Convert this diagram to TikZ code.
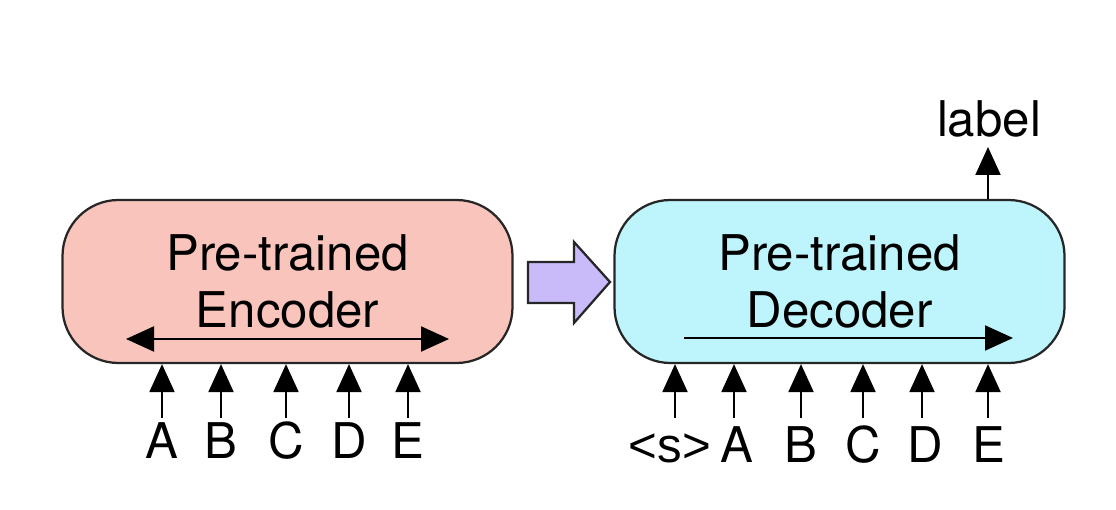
\documentclass[tikz,border=0pt]{standalone}
\usepackage{fontspec}
\setmainfont{TeX Gyre Heros}
\newfontfamily\arialfont{Liberation Sans}
\usepackage{tikz}
\usetikzlibrary{arrows.meta}

\definecolor{encpink}{RGB}{249,196,188}
\definecolor{decblue}{RGB}{190,244,252}
\definecolor{pushpurple}{RGB}{201,186,250}

\begin{document}
\begin{tikzpicture}[
		block/.style={draw=black!85, line width=0.45mm, rounded corners=1.12cm, minimum width=9cm, minimum height=3.26cm, align=center, font=\fontsize{28}{32.3}\selectfont},
		arr/.style={-{Triangle[length=0.56cm,width=0.5cm]}, line width=0.42mm},
		darr/.style={{Triangle[length=0.56cm,width=0.5cm]}-{Triangle[length=0.56cm,width=0.5cm]}, line width=0.42mm},
		tok/.style={anchor=north, inner sep=0mm, text height=0.72cm, text depth=0cm, font=\fontsize{28}{32.3}\selectfont},
		enctok/.style={tok, outer ysep=0.1cm},
		dectok/.style={tok, outer ysep=0.18cm}
	]
		\useasboundingbox (0,0) rectangle (22.32,10.2);

		\node[block, fill=encpink] (enc) at (5.75,4.57) {Pre-trained\\Encoder};
		\node[block, fill=decblue] (dec) at (16.79,4.57) {Pre-trained\\Decoder};

		\draw[fill=pushpurple, draw=black!85, line width=0.45mm] (10.56,4.96) -- (11.48,4.96) -- (11.48,5.36) -- (12.2,4.56) -- (11.48,3.74) -- (11.48,4.14) -- (10.56,4.14) -- cycle;

		\coordinate (encl) at (2.52,3.42);
		\coordinate (encr) at (8.98,3.42);
		\draw[darr] (encl) -- (encr);

		\coordinate (decl) at (13.68,3.44);
		\coordinate (decr) at (20.26,3.44);
		\draw[arr] (decl) -- (decr);

		\node[enctok] (eA) at (3.24,1.84) {A};
		\node[enctok] (eB) at (4.42,1.84) {B};
		\node[enctok] (eC) at (5.72,1.84) {C};
		\node[enctok] (eD) at (6.98,1.84) {D};
		\node[enctok] (eE) at (8.16,1.84) {E};

		\draw[arr] (eA.north) -- (eA.north |- enc.south);
		\draw[arr] (eB.north) -- (eB.north |- enc.south);
		\draw[arr] (eC.north) -- (eC.north |- enc.south);
		\draw[arr] (eD.north) -- (eD.north |- enc.south);
		\draw[arr] (eE.north) -- (eE.north |- enc.south);

		\node[dectok] (dS) at (13.4,1.84) {\arialfont <s>};
		\node[dectok] (dA) at (14.74,1.84) {A};
		\node[dectok] (dB) at (16.02,1.84) {B};
		\node[dectok] (dC) at (17.26,1.84) {C};
		\node[dectok] (dD) at (18.5,1.84) {D};
		\node[dectok] (dE) at (19.78,1.84) {E};

		\draw[arr] ([xshift=0.1cm]dS.north) -- ([xshift=0.1cm]dS.north |- dec.south);
		\draw[arr] ([xshift=-0.06cm]dA.north) -- ([xshift=-0.06cm]dA.north |- dec.south);
		\draw[arr] (dB.north) -- (dB.north |- dec.south);
		\draw[arr] (dC.north) -- (dC.north |- dec.south);
		\draw[arr] ([xshift=-0.06cm]dD.north) -- ([xshift=-0.06cm]dD.north |- dec.south);
		\draw[arr] ([xshift=-0.02cm]dE.north) -- ([xshift=-0.02cm]dE.north |- dec.south);

		\node[anchor=south, inner sep=0mm, outer ysep=0.2cm, font=\fontsize{28}{32.3}\selectfont] (lab) at (19.78,7.26) {label};
		\draw[arr] ([xshift=-0.02cm]lab.south |- dec.north) -- ([xshift=-0.02cm]lab.south);
	\end{tikzpicture}
\end{document}
